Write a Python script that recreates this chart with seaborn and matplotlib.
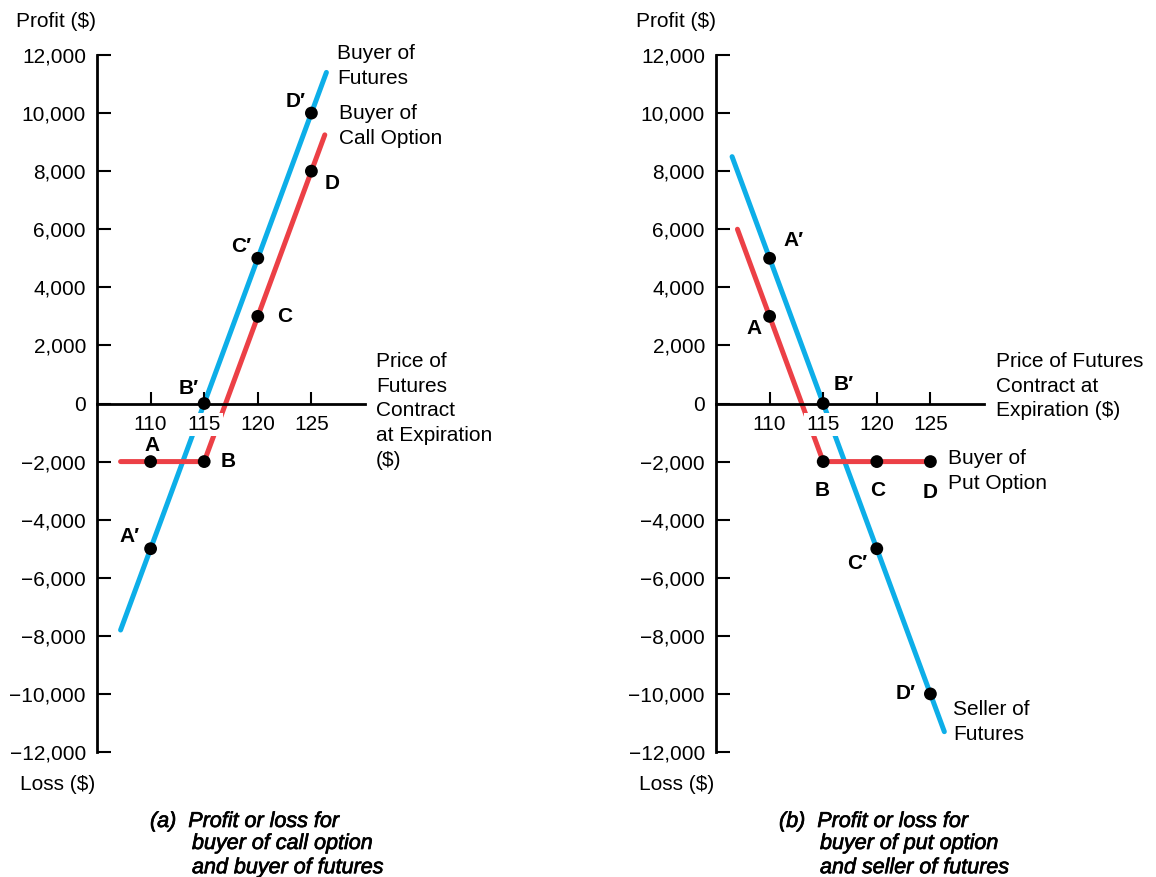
import matplotlib
matplotlib.use("Agg")
import matplotlib.pyplot as plt
import matplotlib.patheffects as pe
import seaborn as sns
import pandas as pd
from matplotlib.ticker import FuncFormatter

# --- data -------------------------------------------------------------
# (a) buyer of futures / buyer of call option
fut_buy_x = [107.2, 126.4]
fut_buy_y = [-7800, 11400]
call_x = [107.2, 115, 126.25]
call_y = [-2000, -2000, 9250]
call_pts_x = [110, 115, 120, 125]
call_pts_y = [-2000, -2000, 3000, 8000]
fut_buy_pts_x = [110, 115, 120, 125]
fut_buy_pts_y = [-5000, 0, 5000, 10000]

# (b) seller of futures / buyer of put option
fut_sell_x = [106.5, 126.3]
fut_sell_y = [8500, -11300]
put_x = [107.0, 115, 125]
put_y = [6000, -2000, -2000]
put_pts_x = [110, 115, 120, 125]
put_pts_y = [3000, -2000, -2000, -2000]
fut_sell_pts_x = [110, 115, 120, 125]
fut_sell_pts_y = [5000, 0, -5000, -10000]

opt_labels = ["A", "B", "C", "D"]
fut_labels = ["A\u2032", "B\u2032", "C\u2032", "D\u2032"]

x_ticks = [110, 115, 120, 125]
y_ticks = list(range(-12000, 12001, 2000))

BLUE = "#0DAEE8"
RED = "#EC4046"
FS = 15

sns.set_theme(style="white")
plt.rcParams["font.family"] = ["Liberation Sans", "DejaVu Sans"]
plt.rcParams["text.color"] = "black"

fig = plt.figure(figsize=(11.56, 8.77), dpi=100)


def px(x, y):
    return x / 1156, 1 - y / 877


def fmt(v, pos):
    s = f"{abs(int(v)):,}"
    return "\u2212" + s if v < 0 else s


def setup_axes(left_px):
    ax = fig.add_axes([left_px / 1156, 125 / 877, 268 / 1156, 697 / 877])
    ax.set_xlim(105, 130)
    ax.set_ylim(-12000, 12000)
    ax.set_axisbelow(False)
    for s in ["top", "right"]:
        ax.spines[s].set_visible(False)
    ax.spines["bottom"].set_position(("data", 0))
    for s in ["left", "bottom"]:
        ax.spines[s].set_linewidth(2)
        ax.spines[s].set_color("black")
    ax.set_xticks(x_ticks)
    ax.set_yticks(y_ticks)
    ax.yaxis.set_major_formatter(FuncFormatter(fmt))
    ax.tick_params(axis="x", bottom=True, direction="in", length=9,
                   width=1.5, pad=8, labelsize=FS, colors="black")
    ax.tick_params(axis="y", left=True, direction="in", length=10,
                   width=1.5, pad=8, labelsize=FS, colors="black")
    for lbl in ax.get_xticklabels():
        lbl.set_bbox(dict(facecolor="white", edgecolor="none", pad=1.5))
    ax.patch.set_alpha(0)
    return ax


def draw_line(ax, xs, ys, color):
    df = pd.DataFrame({"x": xs, "y": ys})
    sns.lineplot(data=df, x="x", y="y", ax=ax, color=color, lw=3.6,
                 sort=False, estimator=None, zorder=2)


def draw_points(ax, xs, ys, labels, offsets):
    df = pd.DataFrame({"x": xs, "y": ys})
    sns.scatterplot(data=df, x="x", y="y", ax=ax, color="black", s=85,
                    edgecolor="none", zorder=5)
    for x, y, t, off in zip(xs, ys, labels, offsets):
        ax.annotate(t, (x, y), xytext=off, textcoords="offset pixels",
                    ha="center", va="center", fontsize=FS,
                    fontweight="bold", zorder=6)


# --- panel (a) --------------------------------------------------------
ax1 = setup_axes(97)
draw_line(ax1, fut_buy_x, fut_buy_y, BLUE)
draw_line(ax1, call_x, call_y, RED)
draw_points(ax1, call_pts_x, call_pts_y, opt_labels,
            [(1, 16), (24, 0), (27, 0), (21, -12)])
draw_points(ax1, fut_buy_pts_x, fut_buy_pts_y, fut_labels,
            [(-21, 12), (-16, 15), (-17, 12), (-16, 12)])
ax1.set_xlabel("")
ax1.set_ylabel("")

# --- panel (b) --------------------------------------------------------
ax2 = setup_axes(716)
draw_line(ax2, fut_sell_x, fut_sell_y, BLUE)
draw_line(ax2, put_x, put_y, RED)
draw_points(ax2, put_pts_x, put_pts_y, opt_labels,
            [(-16, -12), (-1, -29), (1, -29), (0, -31)])
draw_points(ax2, fut_sell_pts_x, fut_sell_pts_y, fut_labels,
            [(24, 18), (20, 19), (-20, -15), (-25, 0)])
ax2.set_xlabel("")
ax2.set_ylabel("")

# --- annotations ------------------------------------------------------
def ftext(x, y, s, **kw):
    kw.setdefault("fontsize", FS)
    kw.setdefault("va", "top")
    kw.setdefault("linespacing", 1.38)
    fig.text(*px(x, y), s, **kw)


ftext(16, 12, "Profit ($)")
ftext(20, 775, "Loss ($)")
ftext(636, 12, "Profit ($)")
ftext(639, 775, "Loss ($)")

ftext(337, 44, "Buyer of\nFutures")
ftext(339, 104, "Buyer of\nCall Option")
ftext(376, 352, "Price of\nFutures\nContract\nat Expiration\n($)")

ftext(996, 352, "Price of Futures\nContract at\nExpiration ($)")
ftext(948, 449, "Buyer of\nPut Option")
ftext(953, 700, "Seller of\nFutures")

cap = dict(style="italic", linespacing=1.2, fontsize=15.5,
           path_effects=[pe.withStroke(linewidth=0.5, foreground="black")])
ftext(150, 811, "(a)  Profit or loss for", **cap)
ftext(192, 833, "buyer of call option\nand buyer of futures", **cap)
ftext(779, 811, "(b)  Profit or loss for", **cap)
ftext(820, 833, "buyer of put option\nand seller of futures", **cap)

fig.savefig("out.png", dpi=100)
